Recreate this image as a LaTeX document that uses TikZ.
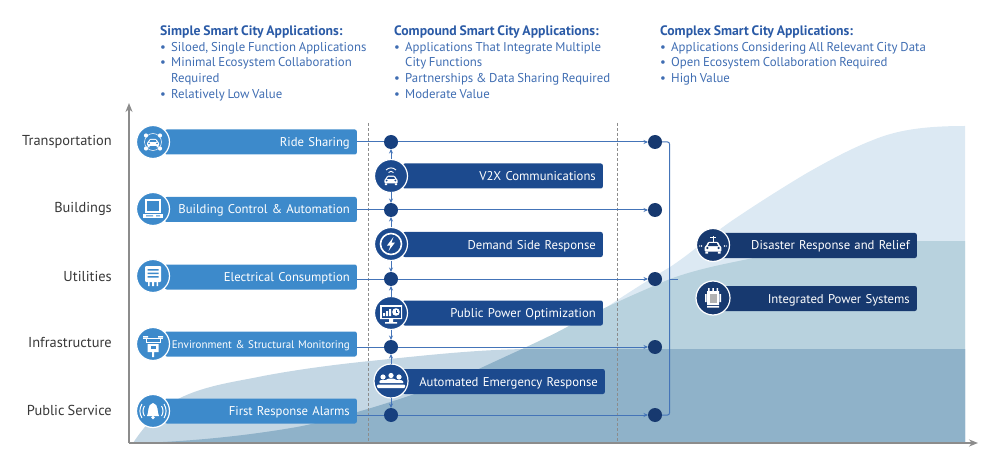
\documentclass[tikz,border=0pt]{standalone}
\usepackage{fontspec}
\setmainfont[WordSpace=0.8]{PT Sans}
\usetikzlibrary{arrows.meta}

\definecolor{barlight}{HTML}{3D8ACB}
\definecolor{barmid}{HTML}{1C4A8E}
\definecolor{bardark}{HTML}{17396F}
\definecolor{hubblue}{HTML}{17407F}
\definecolor{linkblue}{HTML}{4474B8}
\definecolor{headblue}{HTML}{2A5AA6}
\definecolor{textblue}{HTML}{3F6DB2}
\definecolor{areaone}{HTML}{C4D7E4}
\definecolor{areatwo}{HTML}{B8D2DE}
\definecolor{areathree}{HTML}{DCE9F3}
\definecolor{areaboth}{HTML}{8FB2C9}
\definecolor{axisgray}{HTML}{8C8C8C}

\newcommand{\bul}{\makebox[11pt][l]{\textbullet}}
\newcommand{\ind}{\hspace*{11pt}}
\newcommand{\headline}[1]{{\fontsize{13.7}{15.7}\selectfont\bfseries\textcolor{headblue}{#1}}}

\tikzset{
    barbase/.style={anchor=east, rounded corners=2pt, minimum height=25pt, inner xsep=7pt,
        text=white, align=right, font=\fontsize{12.7}{14}\selectfont, text height=10.5pt, text depth=1.5pt},
    leftbar/.style={barbase, fill=barlight, text width=178pt},
    midbar/.style={barbase, fill=barmid, text width=186pt},
    rightbar/.style={barbase, fill=bardark, text width=190pt},
    badge/.style={circle, minimum size=33pt, inner sep=0pt, outer sep=0pt, draw=white, line width=1.2pt},
    hub/.style={circle, minimum size=14pt, inner sep=0pt, outer sep=0pt, fill=hubblue},
    link/.style={linkblue, line width=1pt},
    tiplink/.style={link, -{Stealth[length=4.5pt,width=4pt]}},
    rowlabel/.style={anchor=east, inner xsep=0pt, text=black!78, font=\fontsize{14.4}{16}\selectfont},
    blurb/.style={anchor=north west, align=left, text=textblue, inner sep=0pt, font=\fontsize{12.8}{15.7}\selectfont},
    axisline/.style={axisgray, line width=1.6pt, -{Stealth[length=9pt,width=7pt]}},
    % The small white pictures in the badges
    carbody/.pic={
        \fill[white, rounded corners=1pt] (-3.5,-3) -- (3.5,-3) -- (5,0) -- (6,0.5) -- (6,4) -- (-6,4) -- (-6,0.5) -- (-5,0) -- cycle;
        \fill[#1] (-2.7,-2) -- (2.7,-2) -- (3.7,0) -- (-3.7,0) -- cycle;
        \fill[#1] (-4,1.4) circle (0.9) (4,1.4) circle (0.9);
        \fill[white] (-5.5,4) rectangle (-3.5,5.5) (3.5,4) rectangle (5.5,5.5);
    },
    ridepic/.pic={
        \draw[white, line width=0.5pt] (0,0) circle (8.5);
        \fill[white] (-7,-6.5) circle (2.1) (7,-6.5) circle (2.1) (-7,6.5) circle (2.1) (7,6.5) circle (2.1);
        \pic[scale=1] at (0,0) {carbody=barlight};
    },
    buildpic/.pic={
        \draw[white, line width=1.1pt] (-7,-9) rectangle (7,3);
        \fill[white] (-10,5) rectangle (10,9.5);
        \fill[barlight] (-7,6.5) rectangle (0,7.5) (3,6.5) rectangle (7,7.5);
    },
    meterpic/.pic={
        \fill[white, rounded corners=1pt] (-8,-10) rectangle (8,6);
        \fill[barlight] (-5.5,-7) rectangle (5.5,-5.5) (-5.5,-3.5) rectangle (5.5,-2) (-5.5,0) rectangle (5.5,1.5);
        \fill[white] (-5,6) rectangle (-3.5,10) (-1,6) rectangle (1,10) (3.5,6) rectangle (5,10);
    },
    envpic/.pic={
        \draw[white, line width=1pt] (-10,-6) -- (10,-6) (-7,-6) -- (-7,-2) -- (7,-2) -- (7,-6);
        \fill[white] (-10,-8) rectangle (-5,-6.5) (5,-8) rectangle (10,-6.5);
        \fill[white] (-5.5,0) rectangle (5.5,8) (-1,8) rectangle (1,13);
        \fill[barlight] (-2.5,2) rectangle (2.5,5);
    },
    bellpic/.pic={
        \fill[white] (-6,5) .. controls (-4,2) and (-6,-7) .. (0,-8) .. controls (6,-7) and (4,2) .. (6,5) -- cycle;
        \fill[white] (0,6.5) circle (1.8);
        \draw[white, line width=1pt] (-8.5,-5) .. controls (-10.5,-2) and (-10.5,2) .. (-8.5,5) (8.5,-5) .. controls (10.5,-2) and (10.5,2) .. (8.5,5);
        \draw[white, line width=1pt] (-11,-7) .. controls (-13.8,-2.5) and (-13.8,2.5) .. (-11,7) (11,-7) .. controls (13.8,-2.5) and (13.8,2.5) .. (11,7);
    },
    vxpic/.pic={
        \pic[scale=1.1] at (0,3) {carbody=barmid};
        \draw[white, line width=0.9pt] (-2.5,-3.5) .. controls (-1,-5) and (1,-5) .. (2.5,-3.5) (-5,-6) .. controls (-2,-8.8) and (2,-8.8) .. (5,-6);
    },
    boltpic/.pic={
        \draw[white, line width=1.6pt] (0,0) circle (10.5);
        \fill[white] (2.5,-7) -- (-4,1.5) -- (-0.5,1.5) -- (-2.5,7) -- (4,-1.5) -- (0.5,-1.5) -- cycle;
    },
    screenpic/.pic={
        \fill[white] (-11,-8) rectangle (11,6) (-2,6) rectangle (2,9) (-6,9) rectangle (6,10.5);
        \fill[barmid] (-9.5,-6.5) rectangle (9.5,4.5);
        \fill[white] (-8,3) rectangle (-6,0) (-5,3) rectangle (-3,-2) (-2,3) rectangle (0,-4);
        \fill[white] (5,-1) circle (3.8);
        \draw[barmid, line width=0.7pt] (5,-3) -- (5,-1) -- (6.5,-1);
    },
    crowdpic/.pic={
        \fill[white] (-8,-4) circle (2.6) (0,-5.5) circle (2.6) (8,-4) circle (2.6);
        \fill[white, rounded corners=1pt] (-12,2) -- (-11,-1) -- (-5,-1) -- (-3,-2.5) -- (3,-2.5) -- (5,-1) -- (11,-1) -- (13,2) -- cycle;
        \fill[white, rounded corners=1pt] (-14,3.5) rectangle (14,7);
    },
    stormpic/.pic={
        \pic[scale=1.4] at (0,1) {carbody=bardark};
        \draw[white, line width=0.7pt] (0,-3) -- (0,-9) (-3,-8) -- (3,-8);
        \fill[white] (-11.5,1) circle (0.9) (-13.5,1) circle (0.7) (11.5,1) circle (0.9) (13.5,1) circle (0.7);
    },
    transpic/.pic={
        \fill[white] (-6,-7) rectangle (6,7) (-8,-4) rectangle (-6.5,4) (6.5,-4) rectangle (8,4);
        \fill[white] (-5,-10) rectangle (-3.5,-7) (-0.75,-10) rectangle (0.75,-7) (3.5,-10) rectangle (5,-7) (-6,8) rectangle (6,9.5);
        \fill[black!30] (-3.5,-4) rectangle (3.5,4.5);
    },
}

\begin{document}
\begin{tikzpicture}[x=1pt, y=-1pt]
    \useasboundingbox (0,0) rectangle (1000,454);

    % The three rising areas
    \def\areaone{(133,443) .. controls (145,425) and (160,408) .. (178,399) .. controls (205,385) and (240,381) .. (263,376) .. controls (300,369) and (340,364) .. (370,361) .. controls (420,356) and (470,350) .. (525,349) -- (965,349) -- (965,443) -- cycle}
    \def\areatwo{(137,443) .. controls (180,442) and (240,437) .. (297,427) .. controls (345,418) and (440,388) .. (483,367) .. controls (515,352) and (545,339) .. (567,327) .. controls (595,312) and (625,298) .. (670,279) .. controls (700,268) and (730,263) .. (758,257) .. controls (800,249) and (850,241) .. (890,241) -- (965,241) -- (965,443) -- cycle}
    \fill[areathree] (560,340) .. controls (590,318) and (625,294) .. (670,267) .. controls (690,254) and (710,236) .. (730,222) .. controls (755,205) and (785,186) .. (807,173) .. controls (830,160) and (850,149) .. (873,140) .. controls (895,131) and (920,126) .. (965,126) -- (965,443) -- (560,443) -- cycle;
    \fill[areatwo] \areatwo;
    \fill[areaone] \areaone;
    \begin{scope}
        \clip \areatwo;
        \fill[areaboth] \areaone;
    \end{scope}

    % The axes
    \coordinate (origin) at (129,443);
    \coordinate (axistop) at (129,103);
    \coordinate (axisend) at (978,443);
    \draw[axisline] (origin) -- (axistop);
    \draw[axisline] (origin) -- (axisend);

    % The dashed borders of the middle column
    \coordinate (dashatop) at (368,123);
    \coordinate (dashabot) at (368,443);
    \coordinate (dashbtop) at (617,123);
    \coordinate (dashbbot) at (617,443);
    \draw[black!45, densely dashed, line width=0.6pt] (dashatop) -- (dashabot);
    \draw[black!45, densely dashed, line width=0.6pt] (dashbtop) -- (dashbbot);

    % The texts above the columns
    \node[blurb] (simpletext) at (160,25.5) {\headline{Simple Smart City Applications:}\\
        \bul Siloed, Single Function Applications\\
        \bul Minimal Ecosystem Collaboration\\
        \ind Required\\
        \bul Relatively Low Value};
    \node[blurb] (compoundtext) at (394,25.5) {\headline{Compound Smart City Applications:}\\
        \bul Applications That Integrate Multiple\\
        \ind City Functions\\
        \bul Partnerships \& Data Sharing Required\\
        \bul Moderate Value};
    \node[blurb] (complextext) at (660,25.5) {\headline{Complex Smart City Applications:}\\
        \bul Applications Considering All Relevant City Data\\
        \bul Open Ecosystem Collaboration Required\\
        \bul High Value};

    % The row labels
    \node[rowlabel] (transport) at (112,142) {Transportation};
    \node[rowlabel] (buildings) at (112,209) {Buildings};
    \node[rowlabel] (utilities) at (112,276) {Utilities};
    \node[rowlabel] (infra) at (112,343) {Infrastructure};
    \node[rowlabel] (public) at (112,410) {Public Service};

    % The hubs of both columns
    \foreach \n/\yy in {1/142, 2/210, 3/279, 4/347, 5/415} {
        \node[hub] (huba\n) at (391,\yy) {};
        \node[hub, fill=bardark] (hubb\n) at (655,\yy) {};
    }

    % Simple applications
    \node[leftbar] (ridebar) at (357,142) {Ride Sharing};
    \node[leftbar] (buildbar) at (357,209.5) {Building Control \& Automation};
    \node[leftbar] (elecbar) at (357,277) {Electrical Consumption};
    \node[leftbar, font=\fontsize{11}{13}\selectfont] (envbar) at (357,344) {\mbox{Environment \& Structural Monitoring}};
    \node[leftbar] (alarmbar) at (357,411) {First Response Alarms};
    \node[badge, fill=barlight] (ridebadge) at (153,142) {};
    \node[badge, fill=barlight] (buildbadge) at (153,209) {};
    \node[badge, fill=barlight] (elecbadge) at (153,276) {};
    \node[badge, fill=barlight] (envbadge) at (153,344) {};
    \node[badge, fill=barlight] (alarmbadge) at (153,411) {};
    \pic at (ridebadge) {ridepic};
    \pic at (buildbadge) {buildpic};
    \pic at (elecbadge) {meterpic};
    \pic at (envbadge) {envpic};
    \pic at (alarmbadge) {bellpic};

    % Compound applications
    \node[midbar] (vxbar) at (603,176) {V2X Communications};
    \node[midbar] (demandbar) at (603,244.5) {Demand Side Response};
    \node[midbar] (powerbar) at (603,313) {Public Power Optimization};
    \node[midbar, text width=188pt] (emergbar) at (605,381.5) {Automated Emergency Response};
    \node[badge, fill=barmid] (vxbadge) at (391,176) {};
    \node[badge, fill=barmid] (demandbadge) at (391,244) {};
    \node[badge, fill=barmid] (powerbadge) at (391,313) {};
    \node[badge, fill=barmid, minimum size=34pt] (emergbadge) at (391,381) {};
    \pic at (vxbadge) {vxpic};
    \pic at (demandbadge) {boltpic};
    \pic at (powerbadge) {screenpic};
    \pic at (emergbadge) {crowdpic};

    % Complex applications
    \node[rightbar] (stormbar) at (917,245.5) {Disaster Response and Relief};
    \node[rightbar] (gridbar) at (917,298.5) {Integrated Power Systems};
    \node[badge, fill=bardark] (stormbadge) at (713,245) {};
    \node[badge, fill=bardark, minimum size=34pt] (gridbadge) at (713,298) {};
    \pic at (stormbadge) {stormpic};
    \pic at (gridbadge) {transpic};

    % Rows across the columns
    \draw[link] (ridebar.east |- huba1) -- (huba1);
    \draw[link] (buildbar.east |- huba2) -- (huba2);
    \draw[link] (elecbar.east |- huba3) -- (huba3);
    \draw[link] (envbar.east |- huba4) -- (huba4);
    \draw[link] (alarmbar.east |- huba5) -- (huba5);
    \foreach \n in {1,...,5} {
        \draw[tiplink] (huba\n) -- (hubb\n);
    }

    % From the badges up and down to the hubs
    \draw[tiplink] (vxbadge) -- (huba1);
    \draw[tiplink] (vxbadge) -- (huba2);
    \draw[tiplink] (demandbadge) -- (huba2);
    \draw[tiplink] (demandbadge) -- (huba3);
    \draw[tiplink] (powerbadge) -- (huba3);
    \draw[tiplink] (powerbadge) -- (huba4);
    \draw[tiplink] (emergbadge) -- (huba4);
    \draw[tiplink] (emergbadge) -- (huba5);

    % The bus to the complex applications
    \coordinate (bustop) at (669.5,142);
    \coordinate (busbot) at (669.5,415);
    \coordinate (busmid) at (669.5,279);
    \coordinate (bustick) at (678,279);
    \draw[link, rounded corners=2pt] (hubb1) -- (bustop) -- (busbot) -- (hubb5);
    \draw[link] (busmid) -- (bustick);
\end{tikzpicture}
\end{document}
